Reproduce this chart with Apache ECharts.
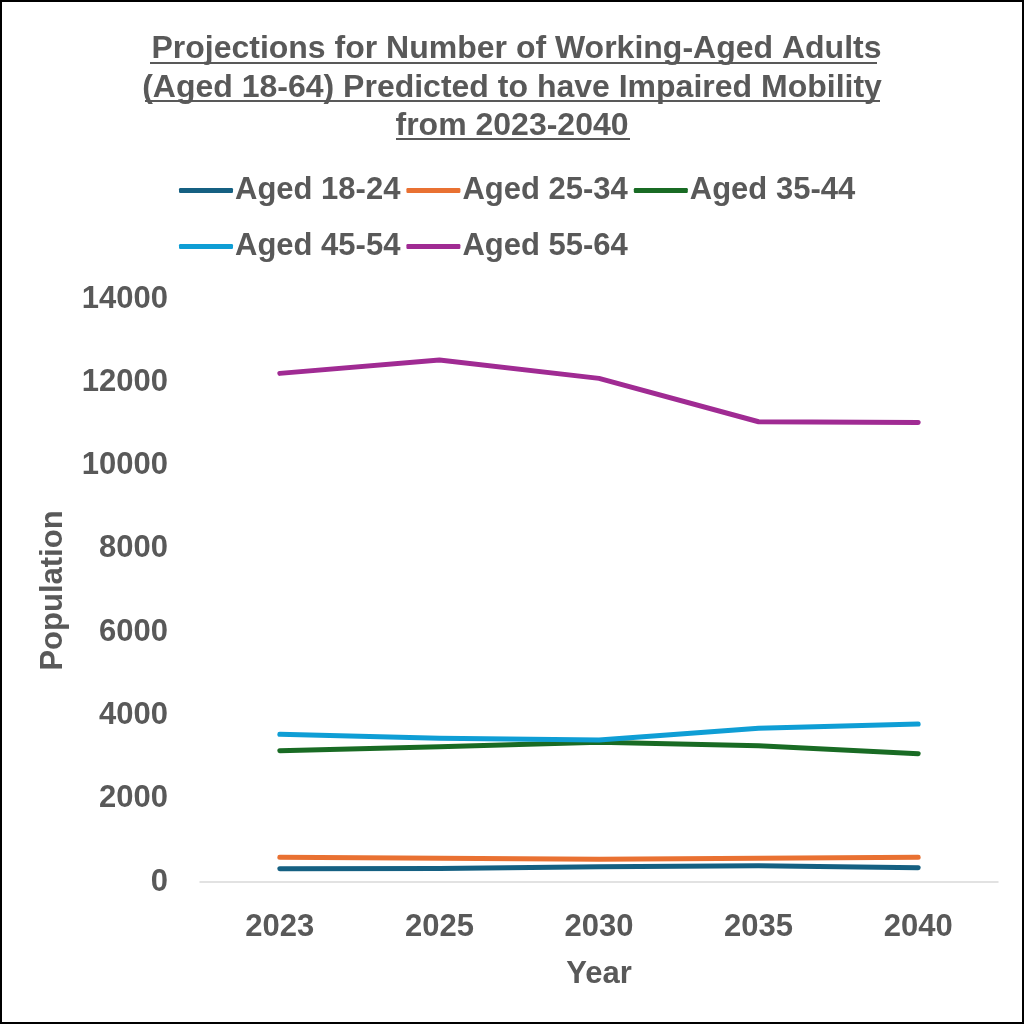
<!DOCTYPE html>
<html>
<head>
<meta charset="utf-8">
<script src="https://cdn.jsdelivr.net/npm/echarts@6/dist/echarts.min.js"></script>
<style>
  html, body { margin: 0; padding: 0; background: #fff; }
  #main { width: 1024px; height: 1024px; }
</style>
</head>
<body>
<div id="main"></div>
<script>
// data
var years = ["2023", "2025", "2030", "2035", "2040"];
var seriesNames = ["Aged 18-24", "Aged 25-34", "Aged 35-44", "Aged 45-54", "Aged 55-64"];
var aged18to24 = [320, 327, 368, 392, 344];
var aged25to34 = [593, 569, 545, 569, 593];
var aged35to44 = [3153, 3249, 3354, 3273, 3081];
var aged45to54 = [3546, 3450, 3410, 3690, 3794];
var aged55to64 = [12214, 12533, 12094, 11052, 11037];
var colors = ["#156082", "#E97132", "#196B24", "#0F9ED5", "#A02B93"];

var font = "'Liberation Sans', Arial, sans-serif";
var grey = "#595959";

var mychart = echarts.init(document.getElementById('main'));

var allData = [aged18to24, aged25to34, aged35to44, aged45to54, aged55to64];
var series = seriesNames.map(function (name, i) {
  return {
    name: name,
    type: 'line',
    data: allData[i],
    symbol: 'none',
    lineStyle: { width: 5, color: colors[i], cap: 'round', join: 'round' },
    itemStyle: { color: colors[i] }
  };
});

var legendBase = {
  left: 174,
  itemGap: 6,
  itemWidth: 54,
  itemHeight: 5,
  icon: 'roundRect',
  textStyle: { fontFamily: font, fontWeight: 'bold', fontSize: 31, color: grey, padding: [0, 0, 0, -3] }
};

mychart.setOption({
  animation: false,
  title: {
    text: " Projections for Number of Working-Aged Adults\n(Aged 18-64) Predicted to have Impaired Mobility\nfrom 2023-2040",
    left: 'center',
    top: 25,
    textStyle: {
      fontFamily: font,
      fontWeight: 'bold',
      fontSize: 32,
      lineHeight: 38.5,
      color: grey
    }
  },
  legend: [
    Object.assign({}, legendBase, { top: 170, data: seriesNames.slice(0, 3) }),
    Object.assign({}, legendBase, { top: 226, data: seriesNames.slice(3) })
  ],
  grid: {
    left: 200,
    right: 26,
    top: 299,
    bottom: 142
  },
  xAxis: {
    type: 'category',
    data: years,
    name: 'Year',
    nameLocation: 'middle',
    nameGap: 77,
    nameTextStyle: { fontFamily: font, fontWeight: 'bold', fontSize: 31, color: grey },
    axisLine: { lineStyle: { color: '#D9D9D9', width: 1.5 } },
    axisTick: { show: false },
    axisLabel: { fontFamily: font, fontWeight: 'bold', fontSize: 31, color: grey, margin: 30 }
  },
  yAxis: {
    type: 'value',
    min: 0,
    max: 14000,
    interval: 2000,
    name: 'Population',
    nameLocation: 'middle',
    nameGap: 131,
    nameTextStyle: { fontFamily: font, fontWeight: 'bold', fontSize: 31, color: grey },
    axisLine: { show: false },
    axisTick: { show: false },
    splitLine: { show: false },
    axisLabel: {
      fontFamily: font, fontWeight: 'bold', fontSize: 31, color: grey, margin: 32,
      formatter: function (v) { return String(v); }
    }
  },
  graphic: [
    // outer frame
    { type: 'rect', shape: { x: 1, y: 1, width: 1022, height: 1022 }, style: { fill: 'none', stroke: '#000', lineWidth: 2 }, silent: true },
    // title underlines
    { type: 'line', shape: { x1: 150, y1: 63, x2: 877, y2: 63 }, style: { stroke: grey, lineWidth: 2 }, silent: true },
    { type: 'line', shape: { x1: 145, y1: 101, x2: 880, y2: 101 }, style: { stroke: grey, lineWidth: 2 }, silent: true },
    { type: 'line', shape: { x1: 396, y1: 139, x2: 630, y2: 139 }, style: { stroke: grey, lineWidth: 2 }, silent: true }
  ],
  series: series
});
</script>
</body>
</html>
